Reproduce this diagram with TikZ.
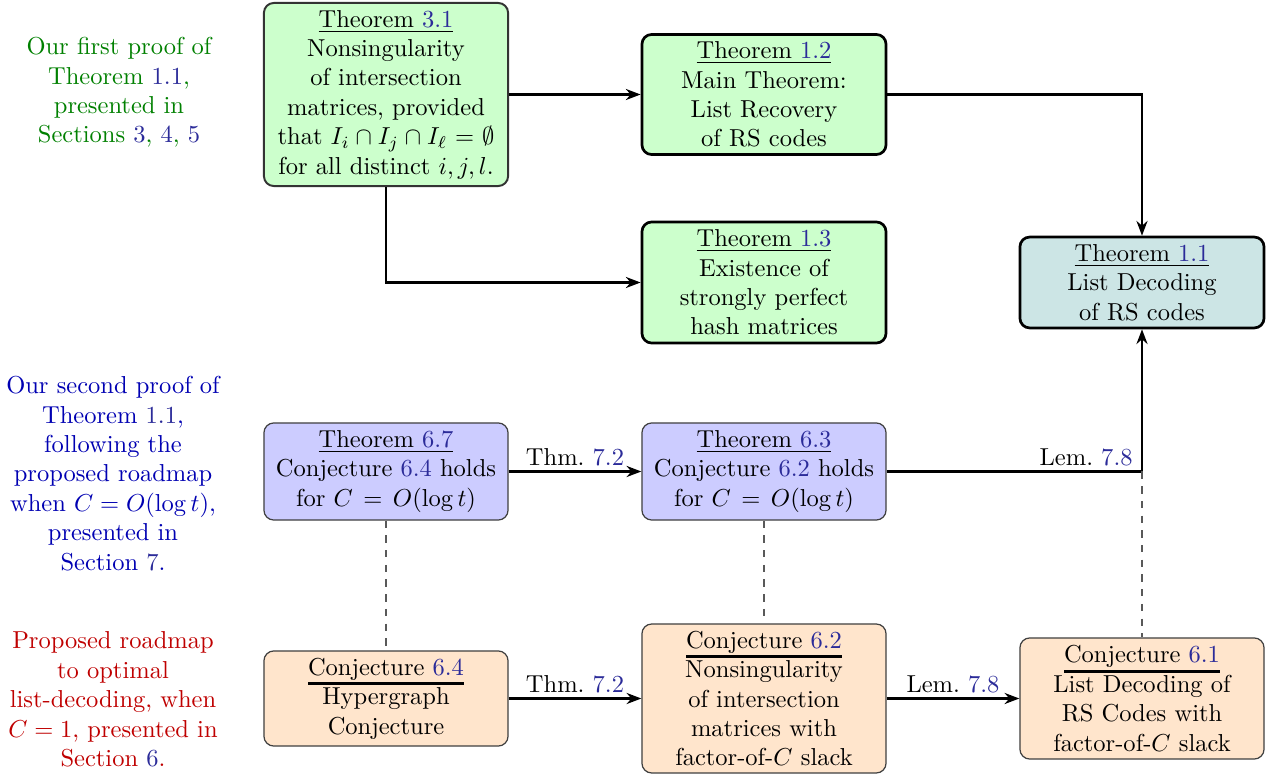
\documentclass[tikz,border=0pt]{standalone}
\usetikzlibrary{arrows.meta}
\definecolor{lk}{RGB}{43,43,153}
\colorlet{gtxt}{green!50!black}
\colorlet{btxt}{blue!70!black}
\colorlet{rtxt}{red!75!black}
\colorlet{gfill}{green!20}
\colorlet{bfill}{blue!20}
\colorlet{ofill}{orange!20}
\colorlet{tfill}{teal!20}
\newcommand{\lk}[1]{\textcolor{lk}{#1}}
\newsavebox{\thulbox}
\newcommand{\thul}[1]{\sbox{\thulbox}{#1}\leavevmode\rlap{\rule[-4pt]{\wd\thulbox}{1.2pt}}\usebox{\thulbox}}
\begin{document}
\begin{tikzpicture}[x=0.408pt,y=-0.408pt,
  box/.style={rounded corners=4pt, align=center, text width=95pt, inner xsep=2.3pt, inner ysep=0pt, minimum width=99.6pt},
  strong/.style={box, draw=black, line width=1.1pt},
  mid/.style={box, draw=black!80, line width=0.8pt},
  soft/.style={box, draw=black!75, line width=0.5pt},
  conn/.style={line width=1.1pt, -{Stealth[length=6pt,width=4.5pt]}},
  dsh/.style={dashed, black!65, line width=0.5pt},
  lab/.style={inner sep=1.8pt},
  side/.style={align=center}]
\useasboundingbox (0,0) rectangle (1268,775);

% left texts
\node[side, text=gtxt] (L1) at (119,92.5) {Our first proof of\\ Theorem \lk{1.1},\\ presented in\\ Sections \lk{3}, \lk{4}, \lk{5}};
\node[side, text=btxt] (L2) at (113,473.5) {Our second proof of\\ Theorem \lk{1.1},\\ following the\\ proposed roadmap\\ when $C=O(\log t)$,\\ presented in\\ Section \lk{7}.};
\node[side, text=rtxt] (L3) at (113,699.5) {Proposed roadmap\\ to optimal\\ list-decoding, when\\ $C=1$, presented in\\ Section \lk{6}.};

% boxes
\node[mid, fill=gfill, minimum height=74.7pt] (T31) at (386,94.5) {\underline{Theorem \lk{3.1}}\\ Nonsingularity\\ of intersection\\ matrices, provided\\ that $I_i\cap I_j\cap I_\ell=\emptyset$\\ for all distinct $i,j,l$.};
\node[strong, fill=gfill, minimum height=49pt] (T12) at (764,94.5) {\underline{Theorem \lk{1.2}}\\ Main Theorem:\\ List Recovery\\ of RS codes};
\node[strong, fill=gfill, minimum height=49.4pt] (T13) at (764,282.5) {\underline{Theorem \lk{1.3}}\\ Existence of\\ strongly perfect\\ hash matrices};
\node[strong, fill=tfill, minimum height=37.1pt] (T11) at (1142,282.5) {\underline{Theorem \lk{1.1}}\\ List Decoding\\ of RS codes};
\node[soft, fill=bfill, minimum height=39.6pt] (T67) at (386,471.5) {\underline{Theorem \lk{6.7}}\\ Conjecture \lk{6.4} holds\\ for $C=O(\log t)$};
\node[soft, fill=bfill, minimum height=39.6pt] (T63) at (764,471.5) {\underline{Theorem \lk{6.3}}\\ Conjecture \lk{6.2} holds\\ for $C=O(\log t)$};
\node[soft, fill=ofill, minimum height=38.8pt] (C64) at (386,698.5) {\thul{Conjecture \lk{6.4}}\\ Hypergraph\\ Conjecture};
\node[soft, fill=ofill, minimum height=60.8pt] (C62) at (764,698.5) {\thul{Conjecture \lk{6.2}}\\ Nonsingularity\\ of intersection\\ matrices with\\ factor-of-$C$ slack};
\node[soft, fill=ofill, minimum height=49.4pt] (C61) at (1142,698.5) {\thul{Conjecture \lk{6.1}}\\ List Decoding of\\ RS Codes with\\ factor-of-$C$ slack};

\coordinate (cr) at (1142,471.5);

% connectors
\draw[conn] (T31.east) -- (T12.west);
\draw[conn] (T31.south) |- (T13.west);
\draw[conn] (T12.east) -| (T11.north);
\draw[conn] (T67) -- node[lab, above] {Thm.~\lk{7.2}} (T63);
\draw[conn] (T63.east) -- (cr) node[lab, above left, xshift=-1.5pt] {Lem.~\lk{7.8}} -- (T11.south);
\draw[conn] (C64) -- node[lab, above] {Thm.~\lk{7.2}} (C62);
\draw[conn] (C62) -- node[lab, above] {Lem.~\lk{7.8}} (C61);
\draw[dsh] (T67.south) -- (C64.north);
\draw[dsh] (T63.south) -- (C62.north);
\draw[dsh] (cr) -- (C61.north);
\end{tikzpicture}
\end{document}
